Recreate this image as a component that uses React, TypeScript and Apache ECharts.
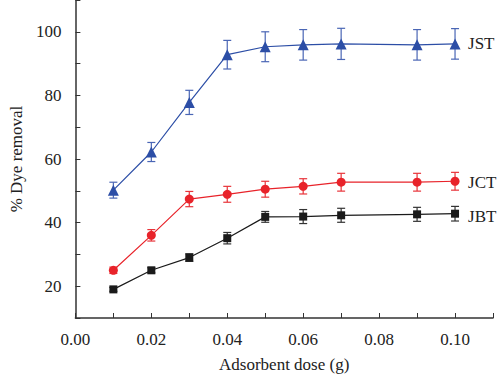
import React, { useEffect, useRef } from "react";
import * as echarts from "echarts";

const doses = [0.01, 0.02, 0.03, 0.04, 0.05, 0.06, 0.07, 0.09, 0.1];
const jstValues = [50.2, 62.2, 77.8, 92.8, 95.3, 95.9, 96.2, 95.9, 96.2];
const jstErrors = [2.5, 3.0, 3.8, 4.5, 4.7, 4.8, 4.9, 4.8, 4.8];
const jctValues = [25.0, 36.0, 47.4, 48.9, 50.5, 51.4, 52.7, 52.7, 53.0];
const jctErrors = [1.0, 1.8, 2.4, 2.5, 2.5, 2.4, 2.8, 2.8, 2.8];
const jbtValues = [19.0, 25.0, 29.0, 35.1, 41.8, 41.9, 42.3, 42.6, 42.8];
const jbtErrors = [0.6, 0.8, 1.2, 1.8, 1.7, 2.2, 2.2, 2.2, 2.3];

const FONT = "Liberation Serif";

function errorSeries(values: number[], errors: number[], color: string) {
  const data = doses.map((d, i) => [d, values[i] - errors[i], values[i] + errors[i]]);
  return {
    type: "custom",
    z: 1,
    silent: true,
    data,
    renderItem: (_params: any, api: any) => {
      const lo = api.coord([api.value(0), api.value(1)]);
      const hi = api.coord([api.value(0), api.value(2)]);
      const hw = 4;
      const style = { stroke: color, lineWidth: 1.2 };
      return {
        type: "group",
        children: [
          { type: "line", shape: { x1: lo[0], y1: lo[1], x2: hi[0], y2: hi[1] }, style },
          { type: "line", shape: { x1: lo[0] - hw, y1: lo[1], x2: lo[0] + hw, y2: lo[1] }, style },
          { type: "line", shape: { x1: hi[0] - hw, y1: hi[1], x2: hi[0] + hw, y2: hi[1] }, style },
        ],
      };
    },
  };
}

function lineSeries(name: string, values: number[], color: string, symbol: string, size: number, offset: number[]) {
  return {
    name,
    type: "line",
    z: 3,
    data: doses.map((d, i) => [d, values[i]]),
    symbol,
    symbolSize: size,
    showAllSymbol: true,
    lineStyle: { color, width: 1.2 },
    itemStyle: { color },
    endLabel: {
      show: true,
      formatter: name,
      distance: 13,
      offset,
      color: "#222",
      fontFamily: FONT,
      fontSize: 17,
    },
  };
}

export default function App() {
  const ref = useRef<HTMLDivElement>(null);
  useEffect(() => {
    document.body.style.margin = "0";
    if (!ref.current) return;
    const chart = echarts.init(ref.current, undefined, { renderer: "svg" });
    const axisLine = { show: true, lineStyle: { color: "#333", width: 1.5 } };
    chart.setOption({
      animation: false,
      grid: { left: 58, right: 7, top: 0, bottom: 60, containLabel: false },
      xAxis: {
        type: "value",
        min: 0,
        max: 0.11,
        interval: 0.01,
        name: "Adsorbent dose (g)",
        nameLocation: "middle",
        nameGap: 38,
        nameTextStyle: { fontFamily: FONT, fontSize: 17, color: "#222" },
        axisLine,
        axisTick: { show: true, inside: true, length: 5, lineStyle: { color: "#333" } },
        splitLine: { show: false },
        axisLabel: {
          margin: 13,
          fontFamily: FONT,
          fontSize: 17,
          color: "#222",
          formatter: (v: number) => {
            const n = Math.round(v * 100);
            return n % 2 === 0 && n <= 10 ? (n / 100).toFixed(2) : "";
          },
        },
      },
      yAxis: {
        type: "value",
        min: 10,
        max: 110,
        interval: 10,
        name: "% Dye removal",
        nameLocation: "middle",
        nameGap: 41,
        nameTextStyle: { fontFamily: FONT, fontSize: 17, color: "#222" },
        axisLine,
        axisTick: { show: true, inside: true, length: 5, lineStyle: { color: "#333" } },
        splitLine: { show: false },
        axisLabel: {
          margin: 14,
          fontFamily: FONT,
          fontSize: 17,
          color: "#222",
          formatter: (v: number) => (Math.round(v) % 20 === 0 && v <= 100 ? String(Math.round(v)) : ""),
        },
      },
      series: [
        errorSeries(jstValues, jstErrors, "#4a66b5"),
        errorSeries(jctValues, jctErrors, "#e8343a"),
        errorSeries(jbtValues, jbtErrors, "#333333"),
        lineSeries("JST", jstValues, "#2c4ea6", "triangle", 11, [0, 0]),
        lineSeries("JCT", jctValues, "#e8232a", "circle", 9, [0, 1]),
        lineSeries("JBT", jbtValues, "#1a1a1a", "rect", 8, [0, 3]),
      ],
    });
    return () => chart.dispose();
  }, []);
  return (
    <div style={{ position: "absolute", left: 0, top: 0 }}>
      <div ref={ref} style={{ width: 500, height: 378 }} />
    </div>
  );
}
